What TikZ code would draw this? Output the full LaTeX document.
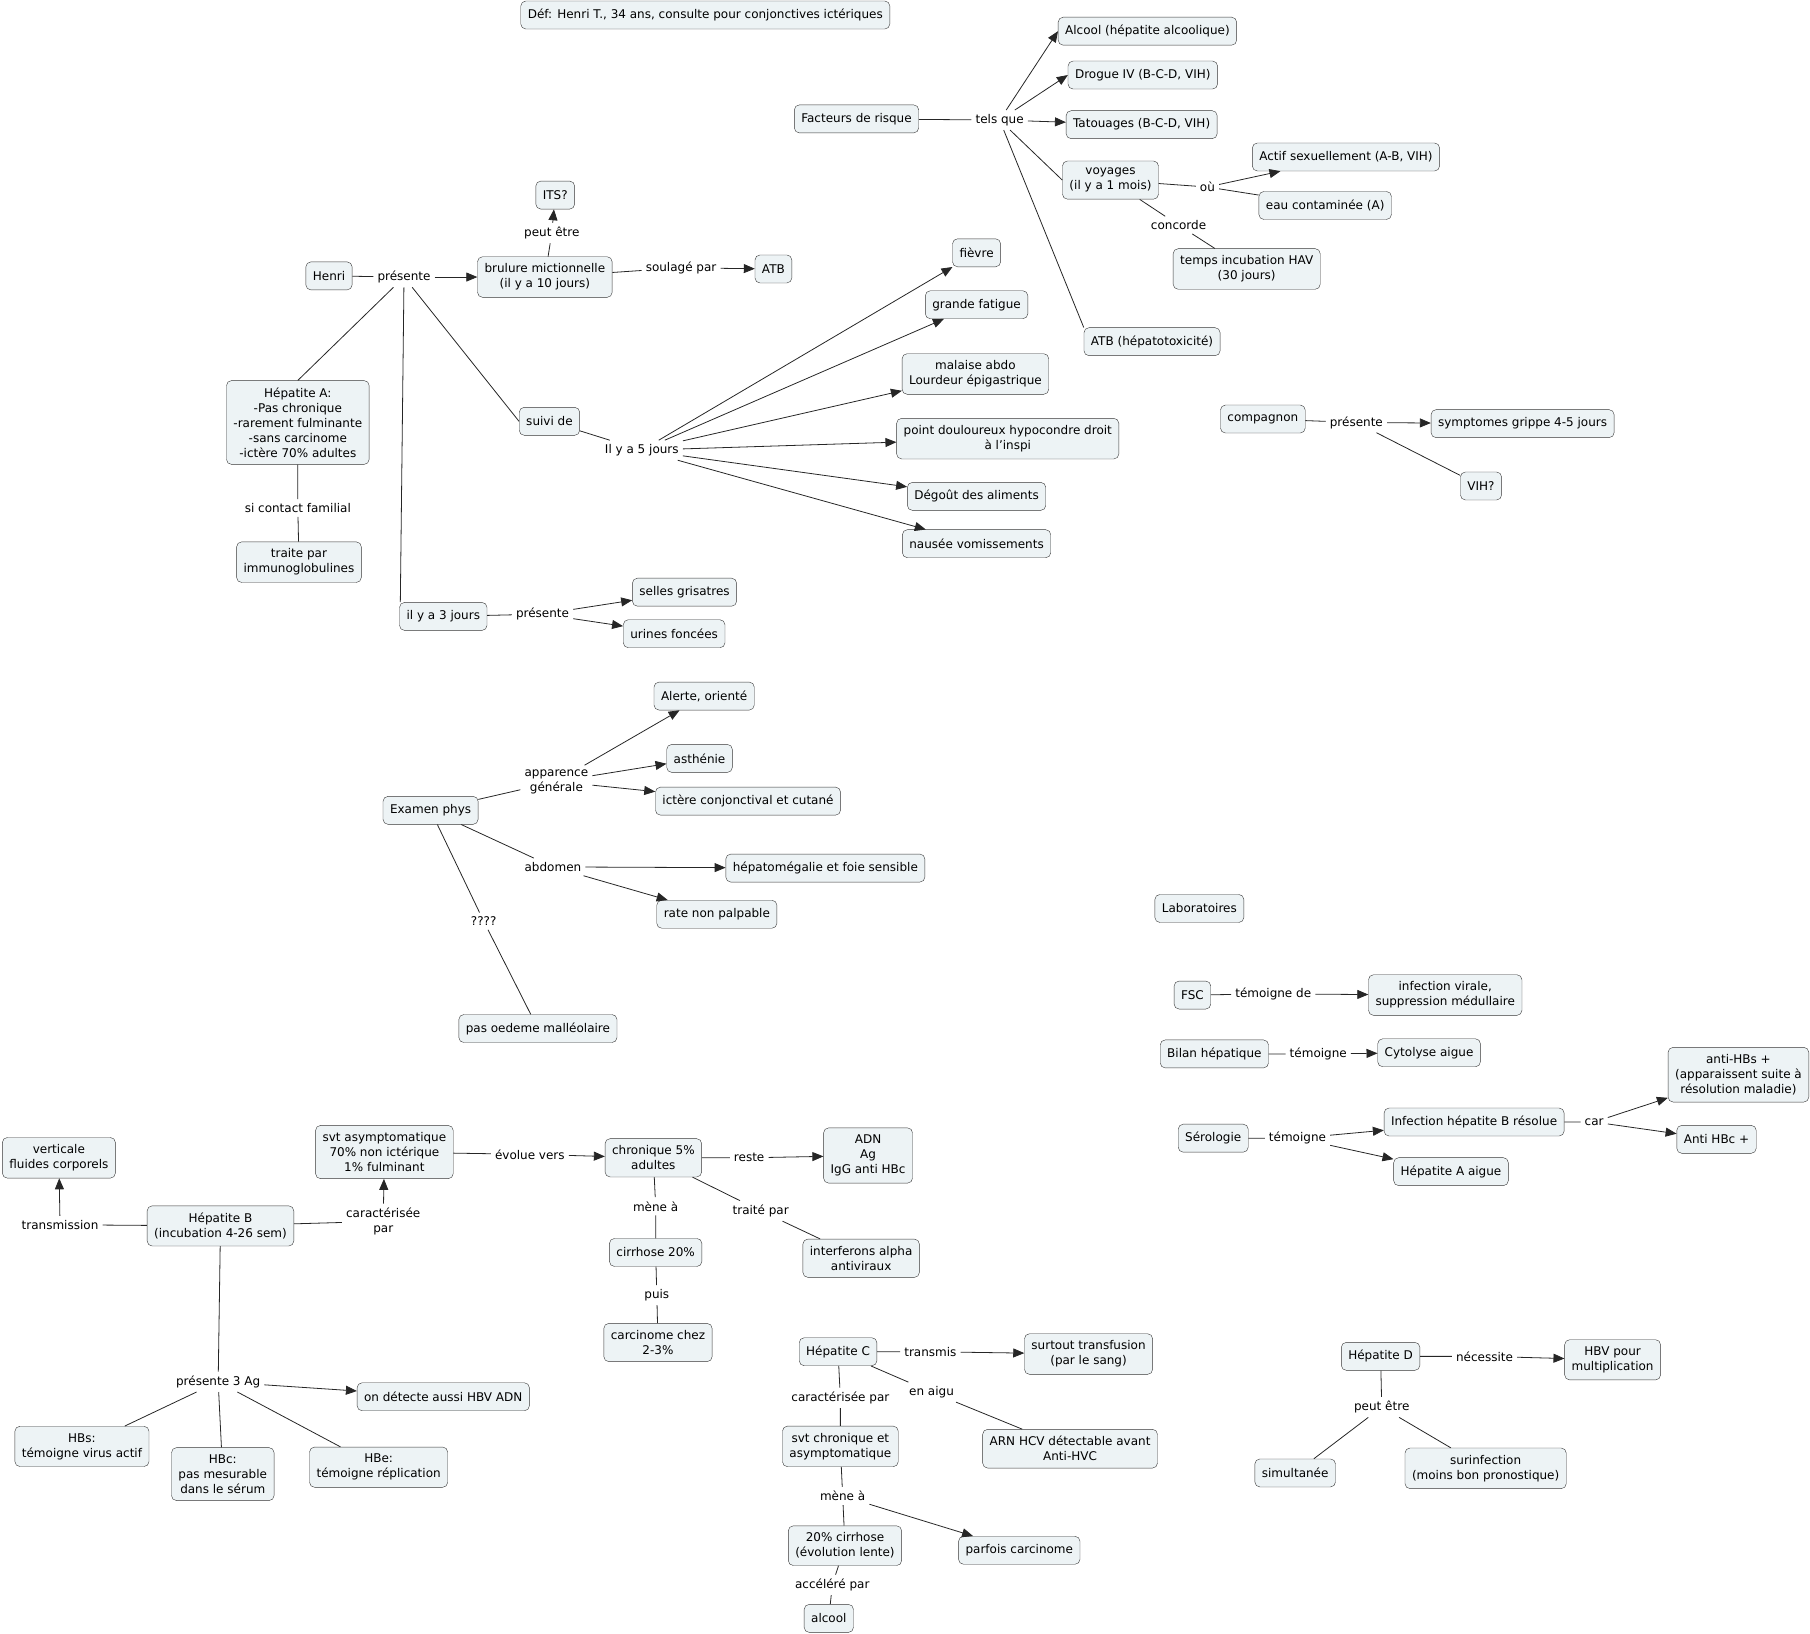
\documentclass[tikz,border=0pt]{standalone}
\usepackage{fontspec}
\setmainfont{DejaVu Sans}
\usetikzlibrary{arrows.meta}
\definecolor{boxfill}{RGB}{237,243,245}
\definecolor{boxline}{RGB}{55,55,55}
\begin{document}
\begin{tikzpicture}[
  x=1.1543pt, y=-1.1543pt,
  font=\fontsize{12}{15}\selectfont,
  box/.style={draw=boxline, fill=boxfill, rounded corners=5pt, align=center, inner xsep=7pt, inner ysep=7pt, minimum height=28pt},
  lbl/.style={align=center, inner sep=4pt},
  link/.style={draw=black!85, line width=0.8pt},
  arr/.style={link, -{Triangle[length=11pt,width=9pt]}}
]
\useasboundingbox (0,0) rectangle (1568,1415);
\node[box] (def) at (611,13) {Déf: Henri T., 34 ans, consulte pour conjonctives ictériques};
% facteurs de risque
\node[box] (facteurs) at (742,103) {Facteurs de risque};
\node[lbl] (telsque) at (866,104) {tels que};
\node[box] (alcool) at (994,27) {Alcool (hépatite alcoolique)};
\node[box] (drogue) at (990,65) {Drogue IV (B-C-D, VIH)};
\node[box] (tatouages) at (989,108) {Tatouages (B-C-D, VIH)};
\node[box] (voyages) at (962,156) {voyages\\(il y a 1 mois)};
\node[lbl] (ou) at (1046,162) {où};
\node[box] (actif) at (1166,136) {Actif sexuellement (A-B, VIH)};
\node[box] (eau) at (1148,178) {eau contaminée (A)};
\node[lbl] (concorde) at (1021,195) {concorde};
\node[box] (incubHAV) at (1080,233) {temps incubation HAV\\(30 jours)};
\node[box] (atbhep) at (998,296) {ATB (hépatotoxicité)};
\draw[link] (facteurs) -- (telsque) (telsque) -- (voyages.west) (telsque) -- (atbhep.north west)
  (voyages) -- (ou) (ou) -- (eau) (voyages) -- (concorde) (concorde) -- (incubHAV);
\draw[arr] (telsque) -- (alcool.west);
\draw[arr] (telsque) -- (drogue.west);
\draw[arr] (telsque) -- (tatouages);
\draw[arr] (ou) -- (actif);
% Henri
\node[box] (henri) at (285,239) {Henri};
\node[lbl] (presente) at (350,240) {présente};
\node[box] (brulure) at (472,240) {brulure mictionnelle\\(il y a 10 jours)};
\node[lbl] (peutetre) at (478,202) {peut être};
\node[box] (its) at (481,169) {ITS?};
\node[lbl] (soulage) at (590,232) {soulagé par};
\node[box] (atb) at (670,233) {ATB};
\node[box] (hepA) at (258,366) {Hépatite A:\\-Pas chronique\\-rarement fulminante\\-sans carcinome\\-ictère 70\% adultes};
\node[lbl] (sicontact) at (258,440) {si contact familial};
\node[box] (immuno) at (259,487) {traite par\\immunoglobulines};
\node[box] (suivi) at (476,365) {suivi de};
\node[lbl] (cinqjours) at (556,390) {Il y a 5 jours};
\node[box] (fievre) at (846,219) {fièvre};
\node[box] (fatigue) at (846,264) {grande fatigue};
\node[box] (malaise) at (845,324) {malaise abdo\\Lourdeur épigastrique};
\node[box] (point) at (873,380) {point douloureux hypocondre droit\\à l'inspi};
\node[box] (degout) at (846,430) {Dégoût des aliments};
\node[box] (nausee) at (846,471) {nausée vomissements};
\node[box] (troisjours) at (384,534) {il y a 3 jours};
\node[lbl] (presente2) at (470,532) {présente};
\node[box] (selles) at (593,513) {selles grisatres};
\node[box] (urines) at (584,549) {urines foncées};
\draw[link] (henri) -- (presente) (presente) -- (hepA.north) (presente) -- ([xshift=1pt]troisjours.north west)
  (presente) -- (suivi.west) (brulure) -- (peutetre) (brulure) -- (soulage)
  (hepA) -- (sicontact) (sicontact) -- (immuno) (suivi) -- (cinqjours)
  (troisjours) -- (presente2);
\draw[arr] (presente) -- (brulure);
\draw[arr] (peutetre) -- (its);
\draw[arr] (soulage) -- (atb);
\foreach \s in {fievre,fatigue,malaise,point,degout,nausee}
  \draw[arr] (cinqjours) -- (\s);
\draw[arr] (presente2) -- (selles);
\draw[arr] (presente2) -- (urines);
% examen physique
\node[box] (examen) at (373,702) {Examen phys};
\node[lbl] (apparence) at (482,677) {apparence\\générale};
\node[box] (alerte) at (610,603) {Alerte, orienté};
\node[box] (asthenie) at (606,657) {asthénie};
\node[box] (ictere) at (648,694) {ictère conjonctival et cutané};
\node[lbl] (abdomen) at (479,751) {abdomen};
\node[box] (hepato) at (715,752) {hépatomégalie et foie sensible};
\node[box] (rate) at (621,792) {rate non palpable};
\node[lbl] (quest) at (419,798) {????};
\node[box] (oedeme) at (466,891) {pas oedeme malléolaire};
\draw[link] (examen) -- (apparence) (examen) -- (abdomen) (examen) -- (quest) (quest) -- (oedeme);
\foreach \s in {alerte,asthenie,ictere}
  \draw[arr] (apparence) -- (\s);
\draw[arr] (abdomen) -- (hepato);
\draw[arr] (abdomen) -- (rate);
% laboratoires
\node[box] (labo) at (1039,787) {Laboratoires};
\node[box] (fsc) at (1033,862) {FSC};
\node[lbl] (temoignede) at (1103,861) {témoigne de};
\node[box] (virale) at (1252,862) {infection virale,\\suppression médullaire};
\node[box] (bilan) at (1052,913) {Bilan hépatique};
\node[lbl] (temoigne1) at (1142,913) {témoigne};
\node[box] (cytolyse) at (1238,912) {Cytolyse aigue};
\node[box] (serologie) at (1051,986) {Sérologie};
\node[lbl] (temoigne2) at (1124,986) {témoigne};
\node[box] (infB) at (1277,972) {Infection hépatite B résolue};
\node[lbl] (car) at (1381,972) {car};
\node[box] (antiHBs) at (1506,931) {anti-HBs +\\(apparaissent suite à\\résolution maladie)};
\node[box] (antiHBc) at (1487,987) {Anti HBc +};
\node[box] (hepAaigue) at (1257,1015) {Hépatite A aigue};
\draw[link] (fsc) -- (temoignede) (bilan) -- (temoigne1) (serologie) -- (temoigne2) (infB) -- (car);
\draw[arr] (temoignede) -- (virale);
\draw[arr] (temoigne1) -- (cytolyse);
\draw[arr] (temoigne2) -- (infB);
\draw[arr] (temoigne2) -- (hepAaigue);
\draw[arr] (car) -- (antiHBs);
\draw[arr] (car) -- (antiHBc);
% compagnon
\node[box] (compagnon) at (1094,363) {compagnon};
\node[lbl] (presente3) at (1175,366) {présente};
\node[box] (grippe) at (1319,367) {symptomes grippe 4-5 jours};
\node[box] (vih) at (1283,421) {VIH?};
\draw[link] (compagnon) -- (presente3) (presente3) -- (vih);
\draw[arr] (presente3) -- (grippe);
% hepatite B
\node[box] (hepB) at (191,1062) {Hépatite B\\(incubation 4-26 sem)};
\node[lbl] (transmission) at (52,1061) {transmission};
\node[box] (verticale) at (51,1003) {verticale\\fluides corporels};
\node[lbl] (caractB) at (332,1058) {caractérisée\\par};
\node[box] (asympto) at (333,998) {svt asymptomatique\\70\% non ictérique\\1\% fulminant};
\node[lbl] (evolue) at (459,1000) {évolue vers};
\node[box] (chronique) at (566,1003) {chronique 5\%\\adultes};
\node[lbl] (reste) at (649,1003) {reste};
\node[box] (adn) at (752,1001) {ADN\\Ag\\IgG anti HBc};
\node[lbl] (meneB) at (568,1045) {mène à};
\node[box] (cirrhoseB) at (568,1085) {cirrhose 20\%};
\node[lbl] (puis) at (569,1122) {puis};
\node[box] (carcinomeB) at (570,1163) {carcinome chez\\2-3\%};
\node[lbl] (traite) at (659,1049) {traité par};
\node[box] (interferons) at (746,1090) {interferons alpha\\antiviraux};
\node[lbl] (troisAg) at (189,1197) {présente 3 Ag};
\node[box] (hbvadn) at (384,1210) {on détecte aussi HBV ADN};
\node[box] (hbs) at (71,1253) {HBs:\\témoigne virus actif};
\node[box] (hbc) at (193,1277) {HBc:\\pas mesurable\\dans le sérum};
\node[box] (hbe) at (328,1271) {HBe:\\témoigne réplication};
\draw[link] (hepB) -- (transmission) (hepB) -- (caractB) (asympto) -- (evolue)
  (chronique) -- (reste) (chronique) -- (meneB) (meneB) -- (cirrhoseB)
  (cirrhoseB) -- (puis) (puis) -- (carcinomeB) (chronique) -- (traite)
  (traite) -- (interferons) (hepB) -- (troisAg);
\draw[arr] (transmission) -- (verticale);
\draw[arr] (caractB) -- (asympto);
\draw[arr] (evolue) -- (chronique);
\draw[arr] (reste) -- (adn);
\draw[arr] (troisAg) -- (hbvadn);
\foreach \s in {hbs,hbc,hbe}
  \draw[link] (troisAg) -- (\s);
% hepatite C
\node[box] (hepC) at (726,1171) {Hépatite C};
\node[lbl] (transmis) at (806,1171) {transmis};
\node[box] (transfusion) at (943,1173) {surtout transfusion\\(par le sang)};
\node[lbl] (enaigu) at (807,1206) {en aigu};
\node[box] (arn) at (927,1255) {ARN HCV détectable avant\\Anti-HVC};
\node[lbl] (caractC) at (728,1211) {caractérisée par};
\node[box] (svtchron) at (728,1253) {svt chronique et\\asymptomatique};
\node[lbl] (meneC) at (730,1296) {mène à};
\node[box] (parfois) at (883,1343) {parfois carcinome};
\node[box] (cirrhoseC) at (732,1339) {20\% cirrhose\\(évolution lente)};
\node[lbl] (accelere) at (721,1373) {accéléré par};
\node[box] (alcoolC) at (718,1402) {alcool};
\draw[link] (hepC) -- (transmis) (hepC) -- (enaigu) (enaigu) -- (arn)
  (hepC) -- (caractC) (caractC) -- (svtchron) (svtchron) -- (meneC)
  (meneC) -- (cirrhoseC) (cirrhoseC) -- (accelere) (accelere) -- (alcoolC);
\draw[arr] (transmis) -- (transfusion);
\draw[arr] (meneC) -- (parfois);
% hepatite D
\node[box] (hepD) at (1196,1175) {Hépatite D};
\node[lbl] (necessite) at (1286,1175) {nécessite};
\node[box] (hbvmult) at (1397,1178) {HBV pour\\multiplication};
\node[lbl] (peutetreD) at (1197,1219) {peut être};
\node[box] (simultanee) at (1122,1276) {simultanée};
\node[box] (surinfection) at (1287,1272) {surinfection\\(moins bon pronostique)};
\draw[link] (hepD) -- (necessite) (hepD) -- (peutetreD)
  (peutetreD) -- (simultanee) (peutetreD) -- (surinfection);
\draw[arr] (necessite) -- (hbvmult);
\end{tikzpicture}
\end{document}
